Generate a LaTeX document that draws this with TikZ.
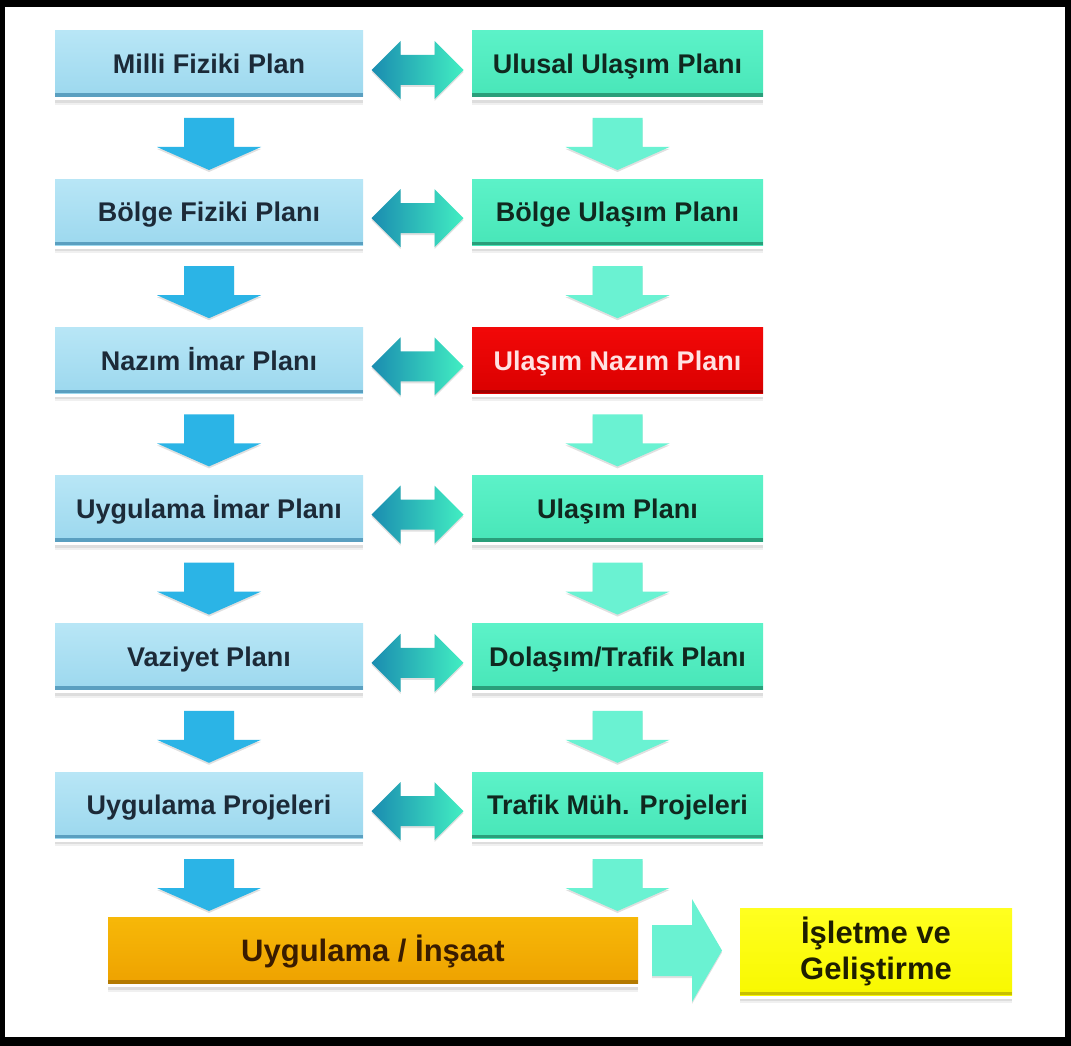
\documentclass[tikz,border=0pt]{standalone}
\usepackage{fontspec}
\setmainfont{Liberation Sans}
\usetikzlibrary{shadows,calc}
\definecolor{lbtop}{HTML}{B8E6F6}
\definecolor{lbbot}{HTML}{9CD8EE}
\definecolor{lbedge}{HTML}{5A9FC0}
\definecolor{lbtext}{HTML}{1C2A38}
\definecolor{aqtop}{HTML}{5CF2C8}
\definecolor{aqbot}{HTML}{48E6B8}
\definecolor{aqedge}{HTML}{2A9E7A}
\definecolor{aqtext}{HTML}{10281F}
\definecolor{rdtop}{HTML}{F20808}
\definecolor{rdbot}{HTML}{DA0000}
\definecolor{rdedge}{HTML}{A00000}
\definecolor{rdtext}{HTML}{FFE2E2}
\definecolor{ortop}{HTML}{F7B808}
\definecolor{orbot}{HTML}{EEA200}
\definecolor{oredge}{HTML}{B47A00}
\definecolor{ortext}{HTML}{3A1C00}
\definecolor{yltop}{HTML}{FFFF20}
\definecolor{ylbot}{HTML}{F8F800}
\definecolor{yledge}{HTML}{C8C000}
\definecolor{yltext}{HTML}{1E1E00}
\definecolor{dnblue}{HTML}{2BB4E6}
\definecolor{dnaqua}{HTML}{6AF2D2}
\definecolor{dbleft}{HTML}{1A8CB0}
\definecolor{dbright}{HTML}{42EEC2}
\newcommand{\edgeline}[2]{\draw[#2, line width=3.5pt] ([yshift=1.75pt]#1.south west) -- ([yshift=1.75pt]#1.south east);}
\newcommand{\dnarr}[2]{\begin{scope}[shift={(#1.south)}]
  \fill[#2, arrshadow] (-25,21) -- (25,21) -- (25,50) -- (52,50) -- (0,73) -- (-52,50) -- (-25,50) -- cycle;
\end{scope}}
\newcommand{\dblarr}[2]{\begin{scope}[shift={($(#1.east)!0.5!(#2.west)+(0,6)$)}]
  \path[left color=dbleft, right color=dbright, arrshadow] (-46,0) -- (-17,-29) -- (-17,-15) -- (17,-15) -- (17,-29) -- (46,0) -- (17,29) -- (17,15) -- (-17,15) -- (-17,29) -- cycle;
\end{scope}}
\begin{document}
\begin{tikzpicture}[x=1pt,y=-1pt,
  arrshadow/.style={drop shadow={shadow xshift=0pt, shadow yshift=-2pt, opacity=0.12, fill=black}},
  plan/.style={rectangle, inner sep=0pt, outer sep=0pt, minimum height=66pt,
    font=\fontsize{27}{32}\selectfont\bfseries, text height=19.3pt, text depth=0pt,
    drop shadow={shadow xshift=0pt, shadow yshift=-8pt, opacity=0.06, fill=black},
    drop shadow={shadow xshift=0pt, shadow yshift=-6pt, opacity=0.08, fill=black},
    preaction={draw=white, line width=7pt}},
  leftbox/.style={plan, minimum width=308pt, top color=lbtop, bottom color=lbbot, text=lbtext},
  rightbox/.style={plan, minimum width=291pt, top color=aqtop, bottom color=aqbot, text=aqtext},
  redbox/.style={plan, minimum width=291pt, top color=rdtop, bottom color=rdbot, text=rdtext},
  orangebox/.style={plan, minimum width=530pt, top color=ortop, bottom color=orbot, text=ortext,
    font=\fontsize{31}{36}\selectfont\bfseries, text height=22.2pt},
  yellowbox/.style={plan, minimum width=272pt, minimum height=87pt, top color=yltop, bottom color=ylbot, text=yltext,
    font=\fontsize{31}{36}\selectfont\bfseries, text height=, text depth=, align=center}
]
\useasboundingbox (0,0) rectangle (1071,1046);
\fill[black] (0,0) rectangle (1071,1046);
\fill[white] (5,7) rectangle (1065,1037);

% left column
\node[leftbox] (L1) at (209,64) {Milli Fiziki Plan};
\node[leftbox] (L2) at (209,212.2) {Bölge Fiziki Planı};
\node[leftbox] (L3) at (209,360.4) {Nazım İmar Planı};
\node[leftbox] (L4) at (209,508.6) {Uygulama İmar Planı};
\node[leftbox] (L5) at (209,656.8) {Vaziyet Planı};
\node[leftbox] (L6) at (209,805) {Uygulama Projeleri};
% right column
\node[rightbox] (R1) at (617.5,64) {Ulusal Ulaşım Planı};
\node[rightbox] (R2) at (617.5,212.2) {Bölge Ulaşım Planı};
\node[redbox] (R3) at (617.5,360.4) {Ulaşım Nazım Planı};
\node[rightbox] (R4) at (617.5,508.6) {Ulaşım Planı};
\node[rightbox] (R5) at (617.5,656.8) {Dolaşım/Trafik Planı};
\node[rightbox] (R6) at (617.5,805) {Trafik Müh. Projeleri};
% bottom
\node[orangebox] (O) at (373,950.5) {Uygulama / İnşaat};
\node[yellowbox] (Y) at (876,951.5) {İşletme ve\\Geliştirme};

\foreach \n in {L1,L2,L3,L4,L5,L6}{\edgeline{\n}{lbedge}}
\foreach \n in {R1,R2,R4,R5,R6}{\edgeline{\n}{aqedge}}
\edgeline{R3}{rdedge}
\edgeline{O}{oredge}
\edgeline{Y}{yledge}

% double arrows
\dblarr{L1}{R1}
\dblarr{L2}{R2}
\dblarr{L3}{R3}
\dblarr{L4}{R4}
\dblarr{L5}{R5}
\dblarr{L6}{R6}

% down arrows
\dnarr{L1}{dnblue}
\dnarr{L2}{dnblue}
\dnarr{L3}{dnblue}
\dnarr{L4}{dnblue}
\dnarr{L5}{dnblue}
\dnarr{L6}{dnblue}
\dnarr{R1}{dnaqua}
\dnarr{R2}{dnaqua}
\dnarr{R3}{dnaqua}
\dnarr{R4}{dnaqua}
\dnarr{R5}{dnaqua}
\dnarr{R6}{dnaqua}

% right arrow to yellow box
\begin{scope}[shift={(O.east)}]
  \fill[dnaqua, arrshadow] (14,-25.5) -- (54,-25.5) -- (54,-51.5) -- (84,0) -- (54,51.5) -- (54,25.5) -- (14,25.5) -- cycle;
\end{scope}
\end{tikzpicture}
\end{document}
